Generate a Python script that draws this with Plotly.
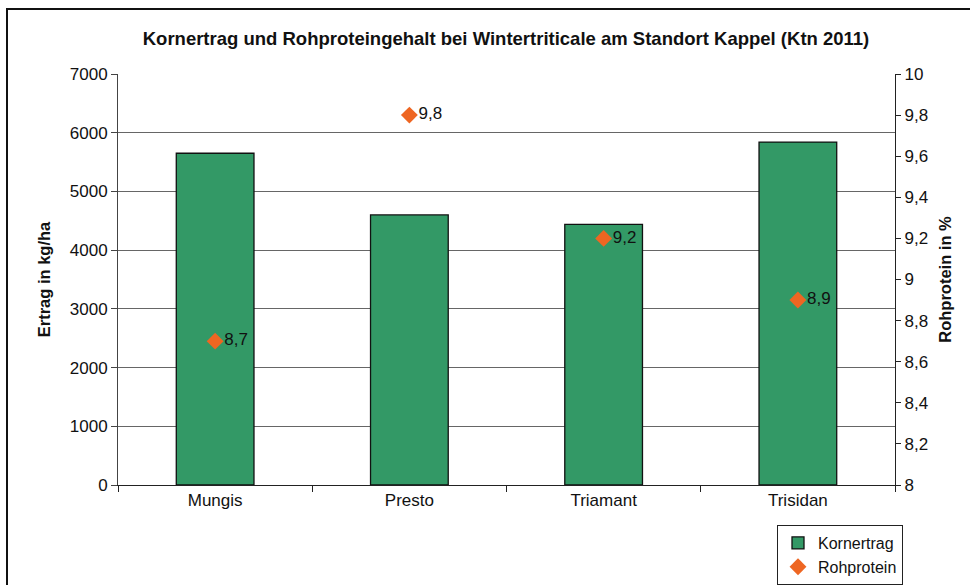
import plotly.graph_objects as go

categories = ["Mungis", "Presto", "Triamant", "Trisidan"]
kornertrag = [5650, 4600, 4440, 5840]
rohprotein = [8.7, 9.8, 9.2, 8.9]
protein_labels = [f"{v:.1f}".replace(".", ",") for v in rohprotein]

FONT = "Arial"
FS = 17

fig = go.Figure()
fig.add_trace(go.Bar(
    x=categories, y=kornertrag, name="Kornertrag",
    marker=dict(color="#339966", line=dict(color="#111111", width=1.3)),
    width=0.4,
))
fig.add_trace(go.Scatter(
    x=categories, y=rohprotein, name="Rohprotein", yaxis="y2",
    mode="markers+text", text=protein_labels, textposition="middle right",
    textfont=dict(size=FS, color="#111111", family=FONT),
    marker=dict(symbol="diamond", size=13, color="#EE6622"),
))

# figure border (paper coordinates relative to plot area)
L, R, T, B = 118, 895, 74, 485
W, H = R - L, B - T
def px(x): return (x - L) / W
def py(y): return (B - y) / H

fig.add_shape(type="rect", xref="paper", yref="paper",
              x0=px(7), x1=px(985), y0=py(9), y1=py(600),
              line=dict(color="#111111", width=2), layer="below")

fig.update_layout(
    width=970, height=585,
    margin=dict(l=L, r=970 - R, t=T, b=585 - B, autoexpand=False),
    paper_bgcolor="white", plot_bgcolor="white",
    separators=",.",
    font=dict(family=FONT, size=FS, color="#111111"),
    title=dict(text="<b>Kornertrag und Rohproteingehalt bei Wintertriticale am Standort Kappel (Ktn 2011)</b>",
               x=px(506), xref="paper", xanchor="center", y=1 - 39 / 585, yanchor="middle",
               font=dict(size=18.5, family=FONT, color="#111111")),
    xaxis=dict(type="category", showline=True, linecolor="#222222", linewidth=1,
               ticks="outside", tickson="boundaries", ticklen=6, tickcolor="#222222",
               tickfont=dict(size=FS), showgrid=False, mirror=False),
    yaxis=dict(range=[0, 7000], dtick=1000, showline=True, linecolor="#444444", linewidth=1,
               ticks="outside", ticklen=6, tickcolor="#444444",
               showgrid=True, gridcolor="#666666", gridwidth=1.2, zeroline=False,
               tickfont=dict(size=FS),
               title=dict(text="<b>Ertrag in kg/ha</b>", font=dict(size=16.5), standoff=14)),
    yaxis2=dict(range=[8, 10], dtick=0.2, overlaying="y", side="right",
                showline=True, linecolor="#222222", linewidth=1.2,
                ticks="outside", ticklen=5, tickcolor="#222222", showgrid=False, zeroline=False,
                tickfont=dict(size=FS),
                title=dict(text="<b>Rohprotein in %</b>", font=dict(size=16.5), standoff=12)),
    legend=dict(x=px(777), y=py(525), xanchor="left", yanchor="top",
                bordercolor="#222222", borderwidth=1, bgcolor="white",
                font=dict(size=16), itemwidth=30, tracegroupgap=0),
    bargap=0.6,
    showlegend=True,
)

fig.write_html("out.html", config={"displayModeBar": False},
               post_script="document.body.style.margin='0';document.body.style.overflow='hidden';")
